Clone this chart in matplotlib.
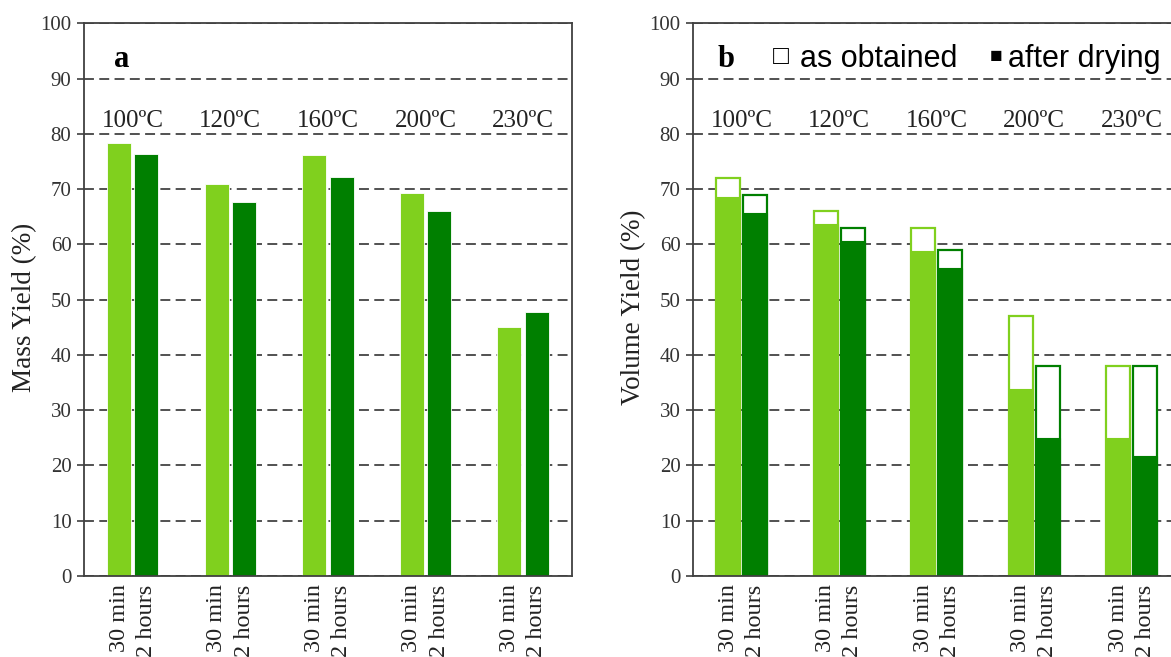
"""Mass and volume yield bar charts (panels a and b)."""

from matplotlib import pyplot as plt
import numpy as np

temps = ['100ºC', '120ºC', '160ºC', '200ºC', '230ºC']
durations = ['30 min', '2 hours']

mass_30min = [78.4, 71.0, 76.2, 69.3, 45.1]
mass_2h = [76.4, 67.7, 72.2, 66.0, 47.8]

vol_obtained_30min = [72.0, 66.0, 63.0, 47.0, 38.0]
vol_obtained_2h = [69.0, 63.0, 59.0, 38.0, 38.0]
vol_dried_30min = [68.6, 63.7, 58.9, 33.9, 24.9]
vol_dried_2h = [65.7, 60.7, 55.8, 24.9, 21.8]

LIGHT = '#80d01e'
DARK = '#007f00'
SERIF = 'Liberation Serif'
SANS = ['Liberation Sans', 'DejaVu Sans']

plt.rcParams['font.family'] = SERIF

fig = plt.figure(figsize=(11.71, 6.57), dpi=100)
ax_a = fig.add_axes([0.0717, 0.1233, 0.4167, 0.841])
ax_b = fig.add_axes([0.5918, 0.1233, 0.4163, 0.841])

x = np.arange(len(temps))
w = 0.246
off = 0.14


def style_axes(axes, ylabel):
    axes.set_xlim(-0.5, len(temps) - 0.5)
    axes.set_ylim(0, 100)
    axes.set_yticks(np.arange(0, 101, 10))
    axes.set_axisbelow(True)
    axes.yaxis.grid(True, color='#222222', linestyle=(0, (6.5, 3.5)), linewidth=1.1)
    for sp in axes.spines.values():
        sp.set_color('#404040')
        sp.set_linewidth(1.3)
    axes.tick_params(axis='y', direction='out', length=5, width=1.2, color='#404040',
                     labelsize=15, labelcolor='#333333', pad=4)
    pos = np.concatenate([x - off, x + off])
    labels = [durations[0]] * len(temps) + [durations[1]] * len(temps)
    axes.set_xticks(pos, labels, rotation=90, fontsize=17.5, color='#222222')
    axes.tick_params(axis='x', length=0, pad=6)
    axes.set_ylabel(ylabel, fontsize=19.5, color='#222222')
    axes.yaxis.set_label_coords(-0.097, 0.487)
    for i, t in enumerate(temps):
        axes.text(x[i], 81.3, t, ha='center', va='baseline', fontsize=18, color='#222222')


# panel a
ax_a.bar(x - off, mass_30min, w, color=LIGHT, edgecolor='white', linewidth=0.6)
ax_a.bar(x + off, mass_2h, w, color=DARK, edgecolor='white', linewidth=0.6)
style_axes(ax_a, 'Mass Yield (%)')
ax_a.text(-0.19, 92.2, 'a', fontsize=22, fontweight='bold', ha='left', va='baseline')

# panel b
ax_b.bar(x - off, vol_obtained_30min, w, color='white', edgecolor=LIGHT, linewidth=1.6)
ax_b.bar(x + off, vol_obtained_2h, w, color='white', edgecolor=DARK, linewidth=1.6)
ax_b.bar(x - off, vol_dried_30min, w, color=LIGHT, edgecolor=LIGHT, linewidth=0.8)
ax_b.bar(x + off, vol_dried_2h, w, color=DARK, edgecolor=DARK, linewidth=0.8)
style_axes(ax_b, 'Volume Yield (%)')
ax_b.text(-0.25, 92.2, 'b', fontsize=22, fontweight='bold', ha='left', va='baseline')
ax_b.text(0.32, 92.6, '□', fontsize=19, family=SANS, ha='left', va='baseline')
ax_b.text(0.6, 92.2, 'as obtained', fontsize=22, family=SANS, ha='left', va='baseline')
ax_b.text(2.54, 93.0, '■', fontsize=15, family=SANS, ha='left', va='baseline')
ax_b.text(2.73, 92.2, 'after drying', fontsize=22, family=SANS, ha='left', va='baseline')

fig.savefig('out.png', dpi=100)
